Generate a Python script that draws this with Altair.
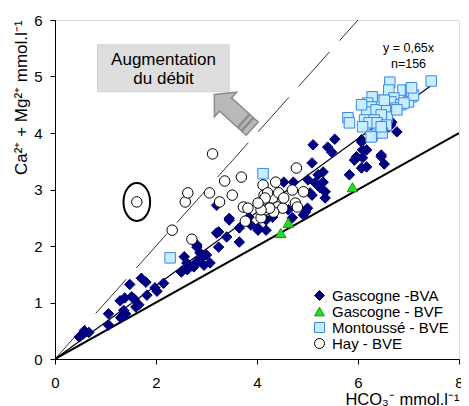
import altair as alt
import pandas as pd

# ---------------- data ----------------
series_names = ["Gascogne -BVA", "Gascogne - BVF", "Montoussé - BVE", "Hay - BVE"]

bva_x = [0.48, 0.58, 0.67, 0.55, 1.06, 1.06, 1.30, 1.36, 1.29, 1.38, 1.48, 1.52, 1.40,
         1.57, 1.66, 1.60, 1.71, 1.80, 1.82, 1.98, 2.02, 2.15, 2.50,
         2.56, 2.52, 2.62, 2.65, 2.75, 2.81, 2.81, 2.91, 2.95, 3.07, 2.87, 3.20, 3.24, 3.40,
         3.45, 3.20, 2.61, 3.45, 3.24, 3.00, 2.81, 3.65, 3.65, 4.02, 4.18, 3.84,
         4.02, 3.88, 4.31, 4.18, 4.70, 4.96,
         4.53, 4.72, 5.01, 5.09, 5.05, 4.92, 4.62, 5.00, 5.11, 5.40, 5.54, 5.48, 5.31, 5.21,
         5.15, 5.31, 5.25, 5.35, 5.35, 5.09,
         5.93, 6.09, 6.07, 5.83, 5.97, 6.09, 6.17, 6.46, 6.52, 6.07, 6.77, 6.65, 6.07, 6.17,
         6.46, 6.61, 6.67, 5.83]
bva_y = [0.39, 0.50, 0.47, 0.44, 0.80, 0.60, 0.73, 0.86, 1.03, 1.08, 1.32, 1.10, 0.80,
         1.06, 0.96, 0.92, 1.43, 1.36, 1.13, 1.26, 1.20, 1.34, 1.54,
         1.81, 1.56, 1.58, 1.62, 1.63, 1.72, 1.98, 1.79, 1.66, 1.70, 1.88, 2.23, 1.98, 2.16,
         2.49, 2.72, 1.70, 2.46, 2.25, 1.84, 2.02, 2.07, 2.32, 2.32, 2.46, 2.51,
         2.28, 2.37, 2.51, 2.28, 2.50, 2.60,
         3.13, 3.13, 3.17, 3.47, 2.94, 2.55, 2.64, 2.67, 3.79, 3.75, 3.89, 3.66, 3.31, 3.26,
         3.12, 3.13, 3.03, 2.96, 2.85, 2.90,
         3.52, 3.56, 3.38, 3.26, 3.58, 3.70, 3.40, 3.61, 3.45, 3.88, 4.02, 4.14, 3.84, 3.70,
         3.58, 4.11, 4.19, 4.23]

bvf_x = [4.47, 4.62, 5.89]
bvf_y = [2.23, 2.41, 3.04]

mont_x = [2.28, 4.12, 5.80, 5.83, 7.45, 6.63, 6.89, 7.04, 7.06, 7.00, 6.61, 6.71, 6.65,
          6.56, 6.85, 6.75, 6.58, 6.38, 6.28, 6.19, 6.26, 6.17, 6.36, 6.46, 6.13, 6.32,
          6.22, 6.38, 6.09, 6.56, 6.28, 6.48, 6.07, 7.10, 7.06, 6.52, 6.91, 6.77, 6.46, 6.26]
mont_y = [1.79, 3.28, 4.27, 4.18, 4.92, 4.90, 4.76, 4.76, 4.64, 4.55, 4.76, 4.62, 4.55,
          4.41, 4.50, 4.44, 4.28, 4.58, 4.64, 4.53, 4.46, 4.37, 4.41, 4.32, 4.23, 4.23,
          4.18, 4.18, 4.11, 4.14, 3.96, 4.00, 4.50, 4.67, 4.80, 4.58, 4.53, 4.41, 4.11, 3.93]

hay_x = [1.62, 2.32, 2.71, 2.58, 2.63, 3.12, 3.36, 3.69, 3.51, 3.26, 3.06, 3.73, 3.82,
         3.77, 4.08, 4.12, 4.37, 4.14, 4.31, 4.41, 4.51, 4.33, 4.18, 4.43, 4.21, 4.16,
         4.53, 4.70, 4.78, 4.92, 4.76, 4.80, 4.25, 4.08, 4.02]
hay_y = [2.78, 2.28, 2.12, 2.78, 2.94, 3.63, 3.15, 3.22, 2.90, 2.78, 2.94, 2.69, 2.67,
         2.44, 2.50, 3.08, 3.13, 2.90, 2.85, 2.69, 2.67, 2.60, 2.64, 2.94, 2.94, 2.85,
         2.85, 2.99, 3.38, 2.96, 2.76, 2.69, 2.67, 2.64, 2.76]

# reference lines: slope and x extent
ref_slope = [0.5, 0.65, 1.0]
ref_xmax = [8.0, 7.45, 6.0]

# annotations (data units)
box_x = [0.84, 3.45]
box_y = [4.73, 5.56]
box_text = ["Augmentation", "du débit"]
box_text_x = [2.15, 2.15]
box_text_y = [5.20, 4.86]
eq_text = ["y = 0,65x", "n=156"]
eq_text_x = [7.0, 7.0]
eq_text_y = [5.43, 5.15]
arrow_pos = [3.53, 4.38]
circled_pos = [1.62, 2.78]

x_ticks = [0, 2, 4, 6, 8]
y_ticks = [0, 1, 2, 3, 4, 5, 6]

FONT = "Liberation Sans"

# ---------------- tables ----------------
pts = pd.concat([
    pd.DataFrame({"x": bva_x, "y": bva_y, "series": series_names[0]}),
    pd.DataFrame({"x": bvf_x, "y": bvf_y, "series": series_names[1]}),
    pd.DataFrame({"x": mont_x, "y": mont_y, "series": series_names[2]}),
    pd.DataFrame({"x": hay_x, "y": hay_y, "series": series_names[3]}),
], ignore_index=True)

xs = alt.Scale(domain=[0, 8], nice=False, zero=True)
ys = alt.Scale(domain=[0, 6], nice=False, zero=True)

x_axis = alt.Axis(values=x_ticks, format="d", title="HCO₃⁻ mmol.l⁻¹", titleAnchor="end", grid=False,
                  tickSize=5, labelPadding=11, titlePadding=1, labelFontSize=15,
                  titleFontSize=16.5, titleFontWeight="normal", labelFlush=False,
                  domainColor="black", tickColor="black", labelColor="black",
                  titleColor="black", labelFont=FONT, titleFont=FONT)
y_axis = alt.Axis(values=y_ticks, format="d", title="Ca²⁺ + Mg²⁺ mmol.l⁻¹", titleAnchor="end", grid=False,
                  tickSize=5, labelPadding=8, titlePadding=3, labelFontSize=15,
                  titleFontSize=17, titleFontWeight="normal", labelFlush=False,
                  domainColor="black", tickColor="black", labelColor="black",
                  titleColor="black", labelFont=FONT, titleFont=FONT)

def line_layer(i, color, width, dash=None):
    df = pd.DataFrame({"x": [0.0, ref_xmax[i]], "y": [0.0, ref_slope[i] * ref_xmax[i]]})
    kw = dict(color=color, strokeWidth=width, clip=True)
    if dash:
        kw["strokeDash"] = dash
    return alt.Chart(df).mark_line(**kw).encode(
        x=alt.X("x:Q", scale=xs, axis=x_axis), y=alt.Y("y:Q", scale=ys, axis=y_axis))

l_thick = line_layer(0, "black", 2)
l_thin = line_layer(1, "black", 1.2)
l_dash = line_layer(2, "#333333", 1, [46, 15])

box = alt.Chart(pd.DataFrame({"x": [box_x[0]], "x2": [box_x[1]], "y": [box_y[0]], "y2": [box_y[1]]})).mark_rect(
    fill="#dedede", stroke="#d0d0d0").encode(x="x:Q", x2="x2:Q", y="y:Q", y2="y2:Q")

box_lbl = alt.Chart(pd.DataFrame({"x": box_text_x, "y": box_text_y, "t": box_text})).mark_text(
    font=FONT, fontSize=17, color="black", align="center", baseline="alphabetic").encode(
    x="x:Q", y="y:Q", text="t:N")

eq_lbl = alt.Chart(pd.DataFrame({"x": eq_text_x, "y": eq_text_y, "t": eq_text})).mark_text(
    font=FONT, fontSize=12.5, color="black", align="center", baseline="alphabetic").encode(
    x="x:Q", y="y:Q", text="t:N")

arrow_path = "M0,-1 L0.65,-0.41 L0.35,-0.41 L0.35,1 L-0.35,1 L-0.35,-0.41 L-0.65,-0.41 Z"
stripe_path = "M-0.35,0.55 L0.35,0.55 M-0.35,0.75 L0.35,0.75"
adf = pd.DataFrame({"x": [arrow_pos[0]], "y": [arrow_pos[1]]})
arrow = alt.Chart(adf).mark_point(shape=arrow_path, size=2601, filled=True, fill="#b9b9b9",
                                  stroke="#8c8c8c", strokeWidth=1.5, opacity=1, angle=312).encode(
    x="x:Q", y="y:Q")
stripes = alt.Chart(adf).mark_point(shape=stripe_path, size=2601, filled=False,
                                    stroke="#8c8c8c", strokeWidth=2.5, opacity=1, angle=312).encode(
    x="x:Q", y="y:Q")

ellipse_path = "M0,-1 A0.7,1 0 1,1 0,1 A0.7,1 0 1,1 0,-1 Z"
ellipse = alt.Chart(pd.DataFrame({"x": [circled_pos[0]], "y": [circled_pos[1]]})).mark_point(
    shape=ellipse_path, size=1444, filled=False, stroke="black", strokeWidth=2, opacity=1).encode(
    x="x:Q", y="y:Q")

leg = alt.Legend(title=None, orient="none", legendX=257, legendY=268, labelFont=FONT,
                 labelFontSize=15, labelColor="black", rowPadding=0, padding=0,
                 symbolSize=100, symbolStrokeWidth=1, labelOffset=5)
points = alt.Chart(pts).mark_point(filled=True, size=110, strokeWidth=1, opacity=1).encode(
    x=alt.X("x:Q", scale=xs, axis=x_axis),
    y=alt.Y("y:Q", scale=ys, axis=y_axis),
    shape=alt.Shape("series:N", scale=alt.Scale(domain=series_names,
                    range=["diamond", "triangle-up", "square", "circle"]), legend=leg),
    fill=alt.Fill("series:N", scale=alt.Scale(domain=series_names,
                  range=["#000080", "#22dd22", "#c8eeff", "#ffffff"]), legend=leg),
    stroke=alt.Stroke("series:N", scale=alt.Scale(domain=series_names,
                      range=["#000080", "#129a12", "#3a86e8", "#000000"]), legend=leg),
)

chart = alt.layer(l_dash, l_thick, l_thin, box, box_lbl, arrow, stripes, ellipse, points, eq_lbl).properties(
    width=404, height=339,
    autosize=alt.AutoSizeParams(type="none"),
    padding={"left": 47, "top": 12, "right": 2, "bottom": 47},
).configure_view(stroke="#666666", strokeWidth=1).configure(background="white")

chart.save("out.html", embed_options={"renderer": "svg", "actions": False})
